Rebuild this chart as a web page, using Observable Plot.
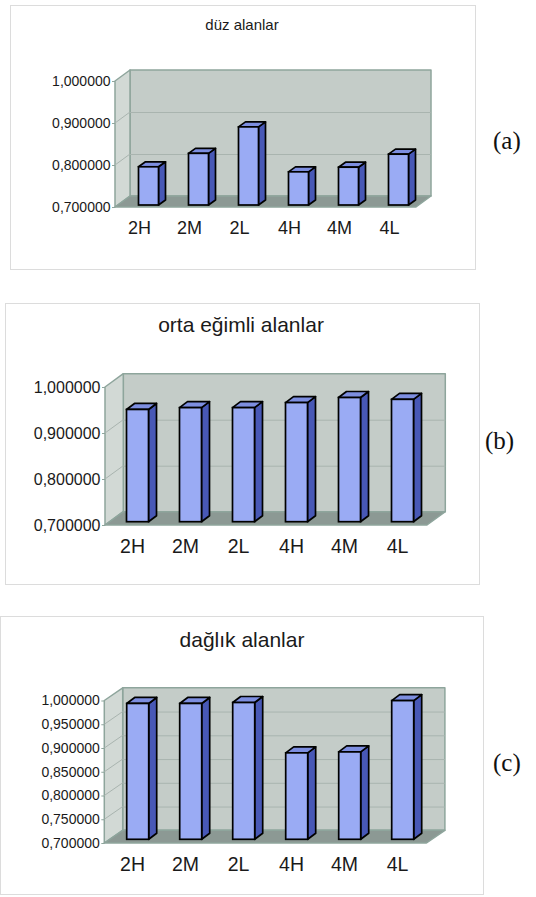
<!DOCTYPE html>
<html>
<head>
<meta charset="utf-8">
<script src="https://cdn.jsdelivr.net/npm/d3@7"></script>
<script src="https://cdn.jsdelivr.net/npm/@observablehq/plot@0.6"></script>
<style>
  html, body { margin: 0; padding: 0; background: #fff; }
  #page { position: relative; width: 536px; height: 897px; overflow: hidden; font-family: "Liberation Sans", Arial, sans-serif; }
  .box { position: absolute; border: 1px solid #dcdcdc; box-sizing: border-box; }
  .title { position: absolute; white-space: nowrap; line-height: 1; color: #1a1a1a; transform: translateX(-50%); }
  .tag { position: absolute; white-space: nowrap; font-family: "Liberation Serif", "Times New Roman", serif; line-height: 1; color: #111; }
  #page svg { position: absolute; left: 0; overflow: visible; }
</style>
</head>
<body>
<div id="page"></div>
<script>
// Categories and values of the three panels
const categories = ["2H", "2M", "2L", "4H", "4M", "4L"];
const duzValues = [0.791, 0.823, 0.886, 0.779, 0.790, 0.821];
const ortaValues = [0.944, 0.948, 0.948, 0.959, 0.970, 0.966];
const dagValues = [0.986, 0.986, 0.988, 0.882, 0.884, 0.992];

// Tick values of the value axis
const ticksCoarse = [0.7, 0.8, 0.9, 1.0];
const ticksFine = [0.7, 0.75, 0.8, 0.85, 0.9, 0.95, 1.0];

const titles = ["düz alanlar", "orta eğimli alanlar", "dağlık alanlar"];
const tags = ["(a)", "(b)", "(c)"];

const baseline = 0.7;
const fmt = v => v.toFixed(6).replace(".", ",");

const colors = {
  front: "#9aabf4", side: "#4858b6", top: "#7d8ee0",
  back: "#c4ccc8", left: "#d2d9d5", floor: "#8c9994",
  edge: "#8ea59c", grid: "#a9b4af", text: "#1a1a1a"
};

// Layout of each panel (page pixels)
const panels = [
  {values: duzValues, ticks: ticksCoarse, title: titles[0], tag: tags[0],
   top: 0, height: 270, margin: [81, 120, 63, 115], xRange: [112.5, 415.5],
   wall: [15, -11], bar: [9.5, -2], depth: [7, -5],
   box: [10, 5, 466, 265], titleAt: [242, 17.3, 15], tagAt: [493, 128.3],
   yFont: 14, xFont: 18, xPad: 13.5},
  {values: ortaValues, ticks: ticksCoarse, title: titles[1], tag: tags[1],
   top: 290, height: 300, margin: [97, 109, 65, 105], xRange: [103.8, 424.2],
   wall: [18.3, -13.3], bar: [5.5, -3.3], depth: [8, -6],
   box: [5, 303, 475, 282], titleAt: [241, 313.9, 21], tagAt: [485, 428.3],
   yFont: 16, xFont: 19.5, xPad: 14},
  {values: dagValues, ticks: ticksFine, title: titles[2], tag: tags[2],
   top: 600, height: 297, margin: [100.5, 109.5, 54, 104.3], xRange: [103.2, 425.4],
   wall: [18.4, -12.7], bar: [5.7, -3.7], depth: [8, -6],
   box: [0, 616, 484, 279], titleAt: [242, 628.9, 21], tagAt: [493, 750.3],
   yFont: 14, xFont: 19.5, xPad: 13.3}
];

const pathOf = pts => "M" + pts.map(q => q.join(",")).join("L") + "Z";

// Back wall, left wall and floor of the 3D frame
function walls(p) {
  return (index, scales, values, dims) => {
    const y = scales.y;
    const L = dims.marginLeft, R = dims.width - dims.marginRight;
    const [wx, wy] = p.wall;
    const yt = y(d3.max(p.ticks)), yb = y(baseline);
    const g = d3.create("svg:g")
      .attr("stroke", colors.edge).attr("stroke-width", 1.5).attr("stroke-linejoin", "round");
    g.append("path").attr("fill", colors.back)
      .attr("d", pathOf([[L + wx, yt + wy], [R + wx, yt + wy], [R + wx, yb + wy], [L + wx, yb + wy]]));
    g.append("path").attr("fill", colors.left)
      .attr("d", pathOf([[L, yt], [L + wx, yt + wy], [L + wx, yb + wy], [L, yb]]));
    for (const t of p.ticks.slice(1, -1)) {
      g.append("line").attr("stroke", colors.grid).attr("stroke-width", 1)
        .attr("x1", L).attr("y1", y(t)).attr("x2", L + wx).attr("y2", y(t) + wy);
    }
    g.append("path").attr("fill", colors.floor)
      .attr("d", pathOf([[L, yb], [R, yb], [R + wx, yb + wy], [L + wx, yb + wy]]));
    return g.node();
  };
}

// Right side and top faces of each column
function barFaces(p, data) {
  return (index, scales) => {
    const {x, y} = scales;
    const bw = x.bandwidth();
    const [bx, by] = p.bar, [ddx, ddy] = p.depth;
    const g = d3.create("svg:g")
      .attr("stroke", "#000").attr("stroke-width", 1.7).attr("stroke-linejoin", "round");
    for (const d of data) {
      const x0 = x(d.category) + bx, x1 = x0 + bw;
      const yt = y(d.value) + by, yb = y(baseline) + by;
      g.append("path").attr("fill", colors.side)
        .attr("d", pathOf([[x1, yb], [x1 + ddx, yb + ddy], [x1 + ddx, yt + ddy], [x1, yt]]));
      g.append("path").attr("fill", colors.top)
        .attr("d", pathOf([[x0, yt], [x0 + ddx, yt + ddy], [x1 + ddx, yt + ddy], [x1, yt]]));
    }
    return g.node();
  };
}

const page = document.getElementById("page");

for (const p of panels) {
  const box = document.createElement("div");
  box.className = "box";
  Object.assign(box.style, {left: p.box[0] + "px", top: p.box[1] + "px", width: p.box[2] + "px", height: p.box[3] + "px"});
  page.appendChild(box);

  const data = categories.map((category, i) => ({category, value: p.values[i]}));
  const [mt, mr, mb, ml] = p.margin;

  const chart = Plot.plot({
    width: 536,
    height: p.height,
    marginTop: mt, marginRight: mr, marginBottom: mb, marginLeft: ml,
    style: {fontFamily: '"Liberation Sans", Arial, sans-serif', background: "transparent", color: colors.text, overflow: "visible"},
    x: {domain: categories, range: p.xRange, paddingInner: 0.594, paddingOuter: 0.297},
    y: {domain: [baseline, d3.max(p.ticks)]},
    marks: [
      walls(p),
      Plot.ruleY(p.ticks.slice(1, -1), {dx: p.wall[0], dy: p.wall[1], stroke: colors.grid, strokeWidth: 1}),
      Plot.axisY(p.ticks, {tickFormat: fmt, tickSize: 3, tickPadding: 2, fontSize: p.yFont, label: null, stroke: colors.edge, fill: colors.text}),
      Plot.axisX({tickSize: 0, tickPadding: p.xPad, fontSize: p.xFont, label: null, fill: colors.text}),
      barFaces(p, data),
      Plot.barY(data, {x: "category", y1: baseline, y2: "value", fill: colors.front, stroke: "#000", strokeWidth: 1.7, dx: p.bar[0], dy: p.bar[1]})
    ]
  });
  chart.style.top = p.top + "px";
  page.appendChild(chart);

  const title = document.createElement("div");
  title.className = "title";
  title.textContent = p.title;
  Object.assign(title.style, {left: p.titleAt[0] + "px", top: p.titleAt[1] + "px", fontSize: p.titleAt[2] + "px"});
  page.appendChild(title);

  const tag = document.createElement("div");
  tag.className = "tag";
  tag.textContent = p.tag;
  Object.assign(tag.style, {left: p.tagAt[0] + "px", top: p.tagAt[1] + "px", fontSize: "25px"});
  page.appendChild(tag);
}
</script>
</body>
</html>
